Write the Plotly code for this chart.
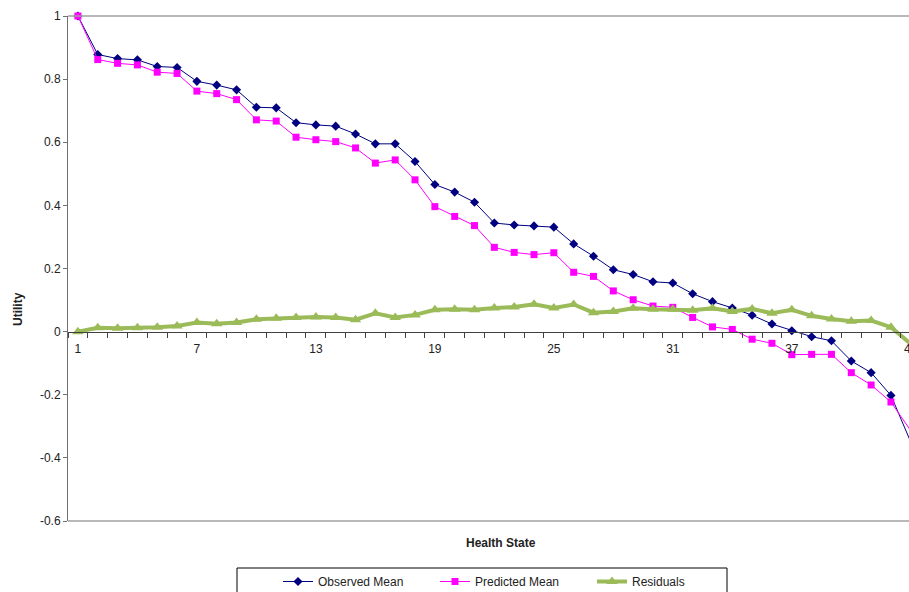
import plotly.graph_objects as go

health_state = list(range(1, 44))
observed_mean = [1.000, 0.878, 0.865, 0.861, 0.840, 0.837, 0.793, 0.781, 0.766, 0.711,
                 0.709, 0.662, 0.655, 0.651, 0.626, 0.595, 0.595, 0.539, 0.466, 0.442,
                 0.410, 0.344, 0.338, 0.335, 0.331, 0.278, 0.239, 0.196, 0.181, 0.158,
                 0.154, 0.120, 0.095, 0.075, 0.052, 0.024, 0.003, -0.016, -0.029, -0.093,
                 -0.130, -0.202, -0.350]
predicted_mean = [1.000, 0.862, 0.850, 0.845, 0.822, 0.818, 0.762, 0.754, 0.735, 0.671,
                  0.667, 0.616, 0.608, 0.602, 0.582, 0.534, 0.544, 0.481, 0.396, 0.365,
                  0.336, 0.267, 0.251, 0.244, 0.250, 0.188, 0.175, 0.129, 0.101, 0.081,
                  0.077, 0.045, 0.015, 0.007, -0.024, -0.037, -0.073, -0.072, -0.072, -0.130,
                  -0.169, -0.223, -0.314]
residuals = [0.000, 0.012, 0.011, 0.012, 0.014, 0.018, 0.029, 0.025, 0.029, 0.039,
             0.042, 0.045, 0.046, 0.045, 0.038, 0.058, 0.045, 0.053, 0.069, 0.071,
             0.069, 0.075, 0.078, 0.087, 0.075, 0.086, 0.060, 0.064, 0.074, 0.071,
             0.071, 0.068, 0.074, 0.064, 0.072, 0.058, 0.069, 0.050, 0.040, 0.033,
             0.035, 0.014, -0.039]
x_tick_vals = [1, 7, 13, 19, 25, 31, 37, 43]
y_tick_vals = [-0.6, -0.4, -0.2, 0, 0.2, 0.4, 0.6, 0.8, 1]
y_tick_text = ["-0.6", "-0.4", "-0.2", "0", "0.2", "0.4", "0.6", "0.8", "1"]

FONT = "Liberation Sans, Arial, sans-serif"
X_MIN, X_MAX = 0.5, 42.91
Y_MIN, Y_MAX = -0.6, 1.0

fig = go.Figure()
fig.add_trace(go.Scatter(
    x=health_state, y=observed_mean, name="Observed Mean", mode="lines+markers",
    line=dict(color="#000080", width=1),
    marker=dict(symbol="diamond", size=7, color="#000080"),
    cliponaxis=False))
fig.add_trace(go.Scatter(
    x=health_state, y=predicted_mean, name="Predicted Mean", mode="lines+markers",
    line=dict(color="#FF00FF", width=1),
    marker=dict(symbol="square", size=7, color="#FF00FF"),
    cliponaxis=False))
fig.add_trace(go.Scatter(
    x=health_state, y=residuals, name="Residuals", mode="lines+markers",
    line=dict(color="#9BBB59", width=4),
    marker=dict(symbol="triangle-up", size=10, color="#9BBB59"),
    cliponaxis=False))

W, H = 909, 592
L, R, T, B = 68, 0, 16, 71
pw = W - L - R
ph = H - T - B

def px_x(p):
    return (p - L) / pw

def px_y(p):
    return (H - B - p) / ph

zero_pos = (0 - Y_MIN) / (Y_MAX - Y_MIN)

# tick labels beyond the visible range (cut off by the window edge)
extra_ticks = [dict(text=str(v), xref="paper", yref="paper",
                    x=(v - X_MIN) / (X_MAX - X_MIN), y=zero_pos, yshift=-17,
                    xanchor="center", yanchor="middle", showarrow=False,
                    font=dict(family=FONT, size=12, color="#222222"))
               for v in x_tick_vals if v > X_MAX]

fig.update_layout(
    width=W, height=H,
    margin=dict(l=L, r=R, t=T, b=B, autoexpand=False),
    paper_bgcolor="white", plot_bgcolor="white",
    font=dict(family=FONT, size=12, color="#222222"),
    showlegend=True,
    legend=dict(orientation="h", x=px_x(278), y=px_y(567), xanchor="left", yanchor="top",
                font=dict(family=FONT, size=12, color="#222222"),
                entrywidth=112, entrywidthmode="pixels",
                bgcolor="rgba(0,0,0,0)", borderwidth=0),
    xaxis=dict(range=[X_MIN, X_MAX], anchor="free", position=zero_pos,
               showgrid=False, zeroline=False, showline=True, linecolor="#404040", linewidth=1,
               tickmode="array", tickvals=x_tick_vals, ticktext=[str(v) for v in x_tick_vals],
               ticks="outside", ticklen=6, tickcolor="rgba(0,0,0,0)",
               tickfont=dict(family=FONT, size=12, color="#222222"),
               minor=dict(tickmode="array", tickvals=[v + 0.5 for v in range(0, 44)],
                          ticks="outside", ticklen=5, tickcolor="#404040", tickwidth=1,
                          showgrid=False)),
    yaxis=dict(range=[Y_MIN, Y_MAX], showgrid=False, zeroline=False,
               showline=True, linecolor="#707070", linewidth=1,
               tickmode="array", tickvals=y_tick_vals, ticktext=y_tick_text,
               ticks="outside", ticklen=4, tickcolor="#707070",
               tickfont=dict(family=FONT, size=12, color="#222222")),
    shapes=[
        dict(type="line", xref="paper", yref="paper", x0=0, x1=1.02, y0=1, y1=1,
             line=dict(color="#A0A0A0", width=1.5)),
        dict(type="line", xref="paper", yref="paper", x0=0, x1=1.02, y0=0, y1=0,
             line=dict(color="#A0A0A0", width=1.5)),
        dict(type="rect", xref="paper", yref="paper",
             x0=px_x(237), x1=px_x(727), y0=px_y(600), y1=px_y(568),
             line=dict(color="#000000", width=1), fillcolor="rgba(0,0,0,0)"),
    ],
    annotations=[
        dict(text="<b>Utility</b>", xref="paper", yref="paper", x=px_x(18), y=px_y(309),
             xanchor="center", yanchor="middle",
             textangle=-90, showarrow=False, font=dict(family=FONT, size=12, color="#222222")),
        dict(text="<b>Health State</b>", xref="paper", yref="paper", x=px_x(501), y=px_y(543),
             xanchor="center", yanchor="middle",
             showarrow=False, font=dict(family=FONT, size=12, color="#222222")),
    ] + extra_ticks,
)

fig.write_html("out.html")
